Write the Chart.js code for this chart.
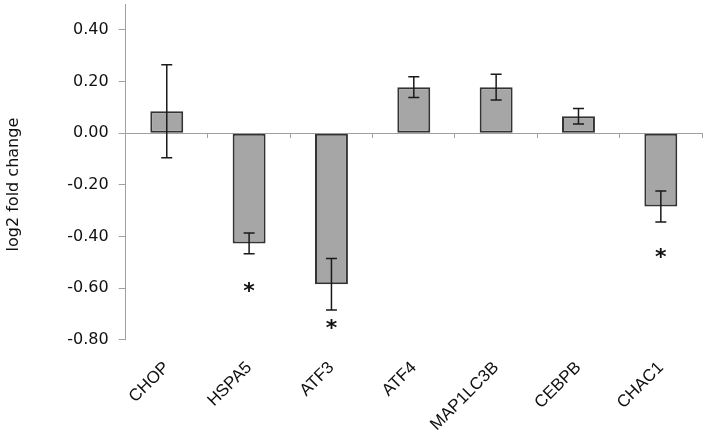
<!DOCTYPE html>
<html>
<head>
<meta charset="utf-8">
<script src="https://cdn.jsdelivr.net/npm/chart.js@4.4.1/dist/chart.umd.min.js"></script>
<style>
  html, body { margin: 0; padding: 0; background: #ffffff; }
  #wrap { width: 707px; height: 439px; }
</style>
</head>
<body>
<div id="wrap"><canvas id="c" width="707" height="439"></canvas></div>
<script>
// ---- data ----
const categories = ['CHOP', 'HSPA5', 'ATF3', 'ATF4', 'MAP1LC3B', 'CEBPB', 'CHAC1'];
const foldChange = [0.085, -0.427, -0.585, 0.178, 0.178, 0.065, -0.284];
const errors = [0.18, 0.04, 0.10, 0.04, 0.05, 0.03, 0.06];
const significant = [false, true, true, false, false, false, true];
const asteriskValues = [null, -0.597, -0.738, null, null, null, -0.464];
const yMin = -0.8, yMax = 0.5, yStep = 0.2;
const yTitle = 'log2 fold change';

const errorBarPlugin = {
  id: 'errorBars',
  afterDatasetsDraw(chart) {
    const ctx = chart.ctx;
    const meta = chart.getDatasetMeta(0);
    const ys = chart.scales.y;
    ctx.save();
    ctx.strokeStyle = '#1a1a1a';
    ctx.lineWidth = 1.5;
    meta.data.forEach((bar, i) => {
      const x = bar.x;
      const yHi = ys.getPixelForValue(foldChange[i] + errors[i]);
      const yLo = ys.getPixelForValue(foldChange[i] - errors[i]);
      const half = 5.5;
      ctx.beginPath();
      ctx.moveTo(x, yHi); ctx.lineTo(x, yLo);
      ctx.moveTo(x - half, yHi); ctx.lineTo(x + half, yHi);
      ctx.moveTo(x - half, yLo); ctx.lineTo(x + half, yLo);
      ctx.stroke();
    });
    // asterisks
    ctx.fillStyle = '#111111';
    ctx.font = 'bold 22px "DejaVu Sans"';
    ctx.textAlign = 'center';
    ctx.textBaseline = 'alphabetic';
    const m = ctx.measureText('*');
    const shift = (m.actualBoundingBoxAscent - m.actualBoundingBoxDescent) / 2;
    meta.data.forEach((bar, i) => {
      if (!significant[i] || asteriskValues[i] === null) return;
      const y = ys.getPixelForValue(asteriskValues[i]);
      ctx.fillText('*', bar.x, y + shift);
    });
    ctx.restore();
  }
};

new Chart(document.getElementById('c'), {
  type: 'bar',
  data: {
    labels: categories,
    datasets: [{
      data: foldChange,
      backgroundColor: '#a6a6a6',
      borderColor: '#333333',
      borderWidth: 2,
      borderSkipped: false,
      categoryPercentage: 1.0,
      barPercentage: 0.4
    }]
  },
  options: {
    responsive: false,
    animation: false,
    devicePixelRatio: 1,
    layout: { padding: { top: 4, right: 5, bottom: -14, left: 0 } },
    plugins: { legend: { display: false }, tooltip: { enabled: false } },
    scales: {
      x: {
        type: 'category',
        position: 'bottom',
        offset: true,
        grid: { display: false, drawTicks: false },
        border: { display: false },
        ticks: {
          autoSkip: false,
          maxRotation: 45,
          minRotation: 45,
          padding: 18,
          color: '#111111',
          font: { family: '"Liberation Sans", Arial, sans-serif', size: 17 }
        }
      },
      x2: {
        type: 'category',
        labels: categories,
        position: { y: 0 },
        offset: true,
        grid: { offset: true, drawOnChartArea: false, drawTicks: true, tickLength: 4, color: '#a0a0a0' },
        border: { display: true, color: '#a0a0a0', width: 1 },
        ticks: { display: false }
      },
      y: {
        type: 'linear',
        min: yMin,
        max: yMax,
        grid: { drawOnChartArea: false, drawTicks: true, tickLength: 7, color: '#a0a0a0' },
        border: { display: true, color: '#a0a0a0', width: 1 },
        ticks: {
          stepSize: yStep,
          padding: 10,
          color: '#111111',
          font: { family: '"DejaVu Sans", Verdana, sans-serif', size: 16 },
          callback: v => (Math.abs(v - yMax) < 1e-9 ? null : v.toFixed(2))
        },
        title: {
          display: true,
          text: yTitle + '     ',
          color: '#111111',
          font: { family: '"DejaVu Sans", Verdana, sans-serif', size: 16 },
          padding: { top: 4, bottom: 34 }
        },
        afterFit(scale) { scale.paddingTop = 0; scale.paddingBottom = 0; }
      }
    }
  },
  plugins: [errorBarPlugin]
});
</script>
</body>
</html>
